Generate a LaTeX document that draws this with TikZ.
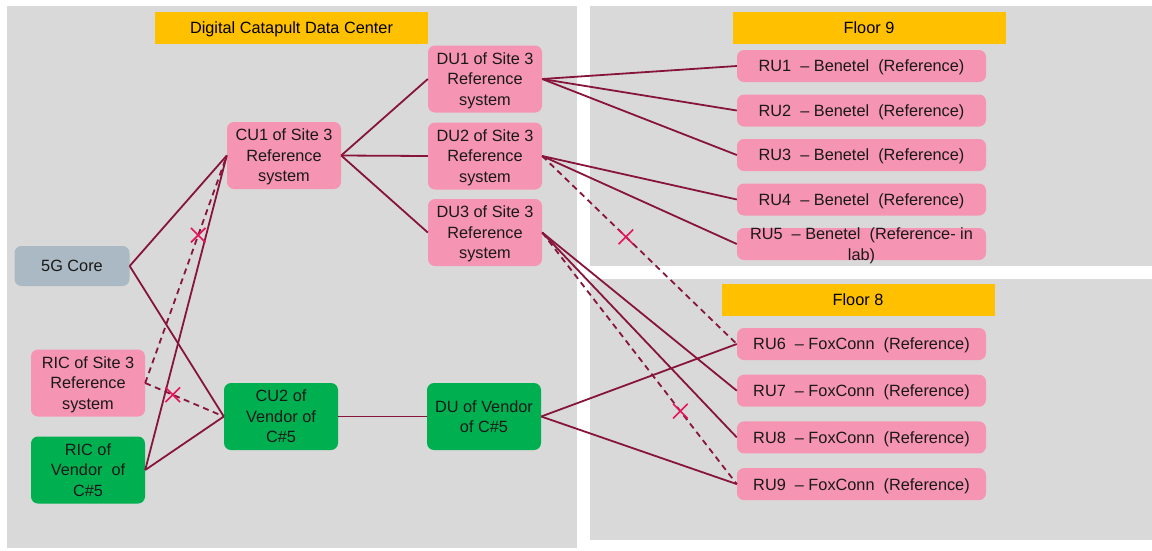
\documentclass[tikz,border=0pt]{standalone}
\usepackage{fontspec}
\setmainfont{Liberation Sans}
\usepackage{tikz}
\usetikzlibrary{shapes, positioning}
\definecolor{panel}{RGB}{217,217,217}
\definecolor{refpink}{RGB}{246,148,180}
\definecolor{vendgreen}{RGB}{0,176,80}
\definecolor{coregray}{RGB}{170,185,195}
\definecolor{headyellow}{RGB}{255,192,0}
\definecolor{linkred}{RGB}{135,20,58}
\definecolor{cutred}{RGB}{228,20,88}
\definecolor{textgray}{RGB}{25,25,25}
\NewDocumentCommand{\boxfont}{}{\fontsize{16.3}{20.5}\selectfont}

\begin{document}
\begin{tikzpicture}[x=1pt, y=-1pt, node distance={44.5pt},
                    box/.style = {rounded corners=7pt, align=center,
                        text=textgray, font=\boxfont, inner sep=0pt,
                        text depth=0pt},
                    ref/.style = {box, fill=refpink, minimum width=114pt,
                        minimum height=67pt},
                    vendor/.style = {box, fill=vendgreen, minimum width=114pt,
                        minimum height=67pt},
                    core/.style = {box, fill=coregray, minimum width=115pt,
                        minimum height=40pt},
                    ru/.style = {box, fill=refpink, minimum width=249pt,
                        minimum height=32pt},
                    header/.style = {fill=headyellow, font=\boxfont,
                        text=black, minimum width=273pt, minimum height=32pt,
                        inner sep=0pt, text depth=0pt},
                    link/.style = {draw=linkred, line width=1.8pt},
                    dlink/.style = {link, dash pattern=on 6pt off 4.5pt},
                    cut/.style = {cross out, draw=cutred, solid, line width=1.6pt,
                        minimum size=13pt, inner sep=0pt}]
        \useasboundingbox (0,0) rectangle (1152,550);
        % panels
        \fill[panel] (7,6) rectangle (577,548);
        \fill[panel] (590,6) rectangle (1152,266);
        \fill[panel] (590,279) rectangle (1152,540);

        \node[header] (dc) at (291.5,28) {Digital Catapult Data Center};
        \node[header] (floor9) at (869,27.5) {Floor 9};
        \node[header] (floor8) at (858,299.5) {Floor 8};

        \node[core] (core) at (72,266) {5G Core};
        \node[ref] (ric3) at (88,383) {RIC of Site 3\\Reference\\system};
        \node[vendor] (ricv) at (88,470) {RIC of\\Vendor\ \ of\\C\#5};
        \node[ref] (cu1) at (284,155.5) {CU1 of Site 3\\Reference\\system};
        \node[vendor] (cu2) at (281,416.5) {CU2 of\\Vendor of\\C\#5};

        \node[ref] (du1) at (485,79) {DU1 of Site 3\\Reference\\system};
        \node[ref] (du2) [below of=du1, node distance=77pt] {DU2 of Site 3\\Reference\\system};
        \node[ref] (du3) [below of=du2, node distance=76.5pt] {DU3 of Site 3\\Reference\\system};
        \node[vendor] (duv) at (484,416.5) {DU of Vendor\\of C\#5};

        % floor 9
        \node[ru] (ru1) at (861.5,66) {RU1\ \ -- Benetel\ \ (Reference)};
        \node[ru] (ru2) [below of=ru1] {RU2\ \ -- Benetel\ \ (Reference)};
        \node[ru] (ru3) [below of=ru2] {RU3\ \ -- Benetel\ \ (Reference)};
        \node[ru] (ru4) [below of=ru3] {RU4\ \ -- Benetel\ \ (Reference)};
        \node[ru] (ru5) [below of=ru4] {};
        \node[box] (ru5text) at (ru5) {RU5\ \ -- Benetel\ \ (Reference- in\\lab)};

        % floor 8
        \node[ru] (ru6) at (861.5,344) {RU6\ \ -- FoxConn\ \ (Reference)};
        \node[ru] (ru7) [below of=ru6, node distance=46.7pt] {RU7\ \ -- FoxConn\ \ (Reference)};
        \node[ru] (ru8) [below of=ru7, node distance=46.7pt] {RU8\ \ -- FoxConn\ \ (Reference)};
        \node[ru] (ru9) [below of=ru8, node distance=46.7pt] {RU9\ \ -- FoxConn\ \ (Reference)};

        \draw[link] (core.east) -- (cu1.west);
        \draw[link] (core.east) -- (cu2.west);
        \draw[link] (ricv.east) -- (cu1.west);
        \draw[link] (ricv.east) -- (cu2.west);
        \draw[dlink] (ric3.east) -- node[cut, pos=0.65] {} (cu1.west);
        \draw[dlink] (ric3.east) -- node[cut, pos=0.35] {} (cu2.west);

        \draw[link] (cu1.east) -- (du1.west);
        \draw[link] (cu1.east) -- (du2.west);
        \draw[link] (cu1.east) -- (du3.west);
        \draw[link] (cu2.east) -- (duv.west);

        \draw[link] (du1.east) -- (ru1.west);
        \draw[link] (du1.east) -- (ru2.west);
        \draw[link] (du1.east) -- (ru3.west);
        \draw[link] (du2.east) -- (ru4.west);
        \draw[link] (du2.east) -- (ru5.west);
        \draw[dlink] (du2.east) -- node[cut, pos=0.43] {} (ru6.west);
        \draw[link] (du3.east) -- (ru7.west);
        \draw[link] (du3.east) -- (ru8.west);
        \draw[dlink] (du3.east) -- node[cut, pos=0.71] {} (ru9.west);
        \draw[link] (duv.east) -- (ru6.west);
        \draw[link] (duv.east) -- (ru9.west);
    \end{tikzpicture}
\end{document}
